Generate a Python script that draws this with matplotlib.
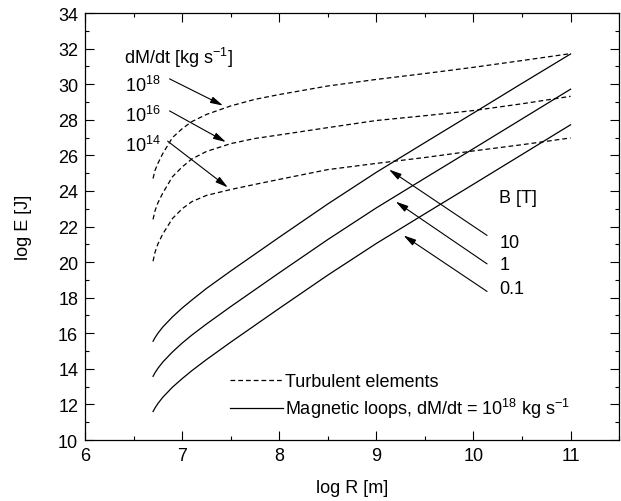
import matplotlib
matplotlib.use("Agg")
import matplotlib.pyplot as plt
from matplotlib.ticker import MultipleLocator

plt.rcParams['font.family'] = ['Liberation Sans', 'DejaVu Sans']
plt.rcParams['mathtext.fontset'] = 'custom'
plt.rcParams['mathtext.rm'] = 'Liberation Sans'
plt.rcParams['mathtext.it'] = 'Liberation Sans:italic'
plt.rcParams['mathtext.bf'] = 'Liberation Sans:bold'

FS = 13

# log R [m] sample points
log_r = [6.70, 6.72, 6.75, 6.80, 6.90, 7.00, 7.10, 7.25, 7.50, 7.75,
         8.00, 8.50, 9.00, 9.50, 10.00, 10.50, 11.00]

# turbulent elements, log E [J], for dM/dt = 1e18, 1e16, 1e14 kg/s
turb_18 = [24.70, 25.15, 25.55, 26.10, 27.00, 27.50, 27.90, 28.30, 28.78, 29.15,
           29.42, 29.90, 30.27, 30.60, 30.95, 31.33, 31.72]
turb_16 = [22.40, 22.88, 23.33, 23.88, 24.80, 25.35, 25.80, 26.22, 26.66, 26.95,
           27.15, 27.56, 27.96, 28.23, 28.52, 28.90, 29.32]
turb_14 = [20.05, 20.55, 21.02, 21.58, 22.45, 23.00, 23.40, 23.75, 24.08, 24.37,
           24.65, 25.20, 25.55, 25.88, 26.25, 26.60, 26.98]

# magnetic loops, log E [J], for B = 10, 1, 0.1 T
mag_10 = [15.55, 15.75, 16.00, 16.35, 16.92, 17.42, 17.87, 18.52, 19.50, 20.45,
          21.40, 23.27, 25.05, 26.72, 28.38, 30.05, 31.70]
mag_1 = [13.58, 13.78, 14.03, 14.38, 14.95, 15.45, 15.90, 16.52, 17.50, 18.45,
         19.40, 21.27, 23.05, 24.72, 26.38, 28.05, 29.72]
mag_01 = [11.60, 11.80, 12.05, 12.40, 12.97, 13.45, 13.90, 14.52, 15.50, 16.45,
          17.40, 19.27, 21.05, 22.72, 24.38, 26.05, 27.72]

mdot_labels = ['10$^{18}$', '10$^{16}$', '10$^{14}$']
b_labels = ['10', '1', '0.1']

fig = plt.figure(figsize=(6.21, 5.02), dpi=100)
ax = fig.add_axes([0.137, 0.1215, 0.86, 0.8505])

dash = [3.8, 2.4]
for i, ys in enumerate([turb_18, turb_16, turb_14]):
    ln, = ax.plot(log_r, ys, color='k', lw=0.9,
                  label='Turbulent elements' if i == 0 else None)
    ln.set_dashes(dash)
for i, ys in enumerate([mag_10, mag_1, mag_01]):
    ax.plot(log_r, ys, color='k', lw=0.9,
            label='Magnetic loops, dM/dt = 10$^{18}$ kg s$^{-1}$' if i == 0 else None)

arrow = dict(arrowstyle='-|>,head_length=0.75,head_width=0.2', color='k', lw=0.8,
             shrinkA=0, shrinkB=0)

# dM/dt labels and arrows
ax.text(6.4, 31.55, 'dM/dt [kg s$^{-1}$]', fontsize=FS, va='center')
mdot_y = [29.95, 28.3, 26.6]
mdot_tail = [(6.87, 30.3), (6.87, 28.5), (6.85, 26.8)]
mdot_head = [(7.42, 28.8), (7.45, 26.75), (7.47, 24.2)]
for lab, y, t, h in zip(mdot_labels, mdot_y, mdot_tail, mdot_head):
    ax.text(6.41, y, lab, fontsize=FS, va='center')
    ax.annotate('', xy=h, xytext=t, arrowprops=arrow)

# B labels and arrows
ax.text(10.26, 23.65, 'B [T]', fontsize=FS, va='center')
b_y = [21.1, 19.85, 18.5]
b_tail = [(10.14, 21.5), (10.14, 19.9), (10.14, 18.35)]
b_head = [(9.13, 25.2), (9.2, 23.4), (9.28, 21.5)]
for lab, y, t, h in zip(b_labels, b_y, b_tail, b_head):
    ax.text(10.27, y, lab, fontsize=FS, va='center')
    ax.annotate('', xy=h, xytext=t, arrowprops=arrow)

ax.set_xlim(6, 11.5)
ax.set_ylim(10, 34)
ax.xaxis.set_major_locator(MultipleLocator(1))
ax.xaxis.set_minor_locator(MultipleLocator(0.5))
ax.yaxis.set_major_locator(MultipleLocator(2))
ax.yaxis.set_minor_locator(MultipleLocator(1))
ax.tick_params(which='both', direction='in', top=True, right=True, width=0.8)
ax.tick_params(which='major', length=6.5, labelsize=FS, pad=5)
ax.tick_params(which='minor', length=3.2)
for s in ax.spines.values():
    s.set_linewidth(0.9)

ax.set_xlabel('log R [m]', fontsize=FS, labelpad=11)
ax.set_ylabel('log E [J]', fontsize=FS, labelpad=19)

ax.legend(loc='lower left', bbox_to_anchor=(0.255, 0.025), frameon=False,
          fontsize=FS, handlelength=2.9, handletextpad=0.15, borderpad=0,
          labelspacing=0.35)

fig.savefig('out.png', dpi=100)
